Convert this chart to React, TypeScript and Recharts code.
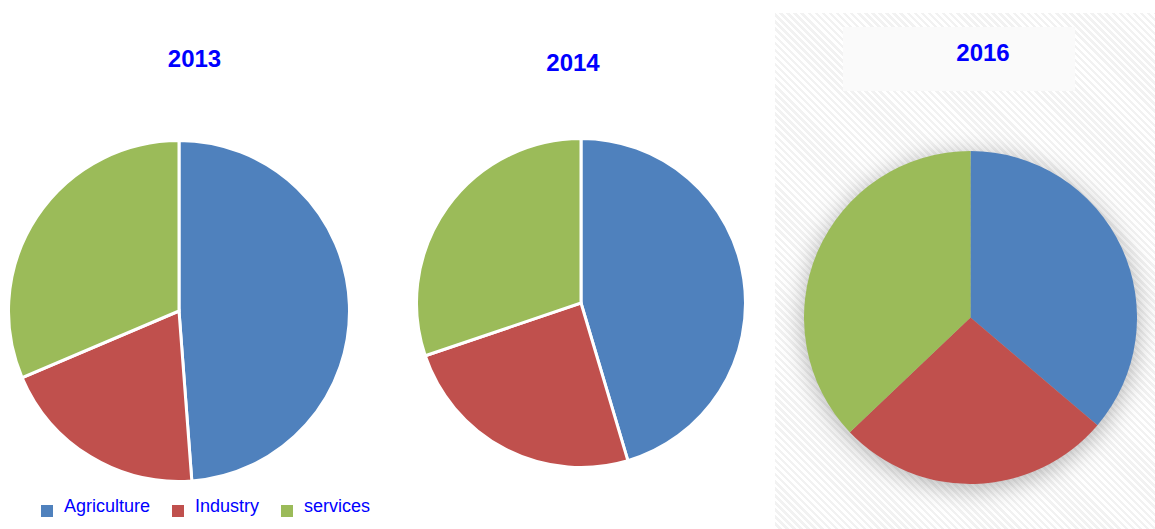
import React from 'react';
import { PieChart, Pie, Cell, Legend } from 'recharts';

// sector shares (%)
const sectors = ['Agriculture', 'Industry', 'services'];
const sectorColors = ['#4F81BD', '#C0504D', '#9BBB59'];
const share2013 = [48.8, 19.8, 31.4];
const share2014 = [45.4, 24.4, 30.2];
const share2016 = [36.2, 26.7, 37.1];
const years = ['2013', '2014', '2016'];

const W = 1155;
const H = 529;
const blue = '#0000FF';

const toRows = (values: number[]) => sectors.map((name, i) => ({ name, value: values[i] }));

const titleStyle = (cx: number, top: number): React.CSSProperties => ({
  position: 'absolute',
  left: cx - 100,
  top,
  width: 200,
  textAlign: 'center',
  font: "bold 24px 'Liberation Sans', Arial, sans-serif",
  lineHeight: '24px',
  color: blue,
});

const SectorLegend = () => (
  <div style={{ display: 'flex', alignItems: 'flex-start' }}>
    {sectors.map((name, i) => (
      <div key={name} style={{ display: 'flex', alignItems: 'flex-start', marginRight: 22 }}>
        <span
          style={{ width: 12, height: 12, marginTop: 9, marginRight: 11, background: sectorColors[i] }}
        />
        <span
          style={{
            fontFamily: "'Liberation Sans', Arial, sans-serif",
            fontSize: 18,
            lineHeight: '20px',
            color: blue,
          }}
        >
          {name}
        </span>
      </div>
    ))}
  </div>
);

const layer: React.CSSProperties = { position: 'absolute', left: 0, top: 0 };
const noMargin = { top: 0, right: 0, bottom: 0, left: 0 };

export default function App() {
  return (
    <div style={{ position: 'absolute', left: 0, top: 0, width: W, height: H, background: '#fff', overflow: 'hidden' }}>
      {/* striped panel behind the 2016 pie */}
      <div
        style={{
          position: 'absolute',
          left: 775,
          top: 13,
          width: W - 775,
          height: H - 13,
          background: 'repeating-linear-gradient(45deg, #ffffff 0px, #ffffff 2.5px, #f2f2f2 2.5px, #f2f2f2 5px)',
        }}
      />
      <div style={{ position: 'absolute', left: 843, top: 27, width: 232, height: 64, background: '#fafafa' }} />

      <div style={layer}>
        <PieChart width={W} height={H} margin={noMargin}>
          <Pie
            data={toRows(share2013)}
            dataKey="value"
            nameKey="name"
            cx={179}
            cy={311}
            outerRadius={170.5}
            startAngle={90}
            endAngle={-270}
            stroke="#fff"
            strokeWidth={3}
            isAnimationActive={false}
          >
            {sectors.map((s, i) => (
              <Cell key={s} fill={sectorColors[i]} />
            ))}
          </Pie>
          <Legend content={<SectorLegend />} wrapperStyle={{ left: 41, top: 496, width: 380, height: 30 }} />
        </PieChart>
      </div>

      <div style={layer}>
        <PieChart width={W} height={H} margin={noMargin}>
          <Pie
            data={toRows(share2014)}
            dataKey="value"
            nameKey="name"
            cx={581}
            cy={303}
            outerRadius={164.5}
            startAngle={90}
            endAngle={-270}
            stroke="#fff"
            strokeWidth={3}
            isAnimationActive={false}
          >
            {sectors.map((s, i) => (
              <Cell key={s} fill={sectorColors[i]} />
            ))}
          </Pie>
        </PieChart>
      </div>

      <div style={{ ...layer, filter: 'drop-shadow(0px 4px 12px rgba(0,0,0,0.3))' }}>
        <PieChart width={W} height={H} margin={noMargin}>
          <Pie
            data={toRows(share2016)}
            dataKey="value"
            nameKey="name"
            cx={970.5}
            cy={317.5}
            outerRadius={166.5}
            startAngle={90}
            endAngle={-270}
            stroke="none"
            isAnimationActive={false}
          >
            {sectors.map((s, i) => (
              <Cell key={s} fill={sectorColors[i]} />
            ))}
          </Pie>
        </PieChart>
      </div>

      <div style={titleStyle(194.5, 47)}>{years[0]}</div>
      <div style={titleStyle(573, 51)}>{years[1]}</div>
      <div style={titleStyle(983, 41)}>{years[2]}</div>
    </div>
  );
}
